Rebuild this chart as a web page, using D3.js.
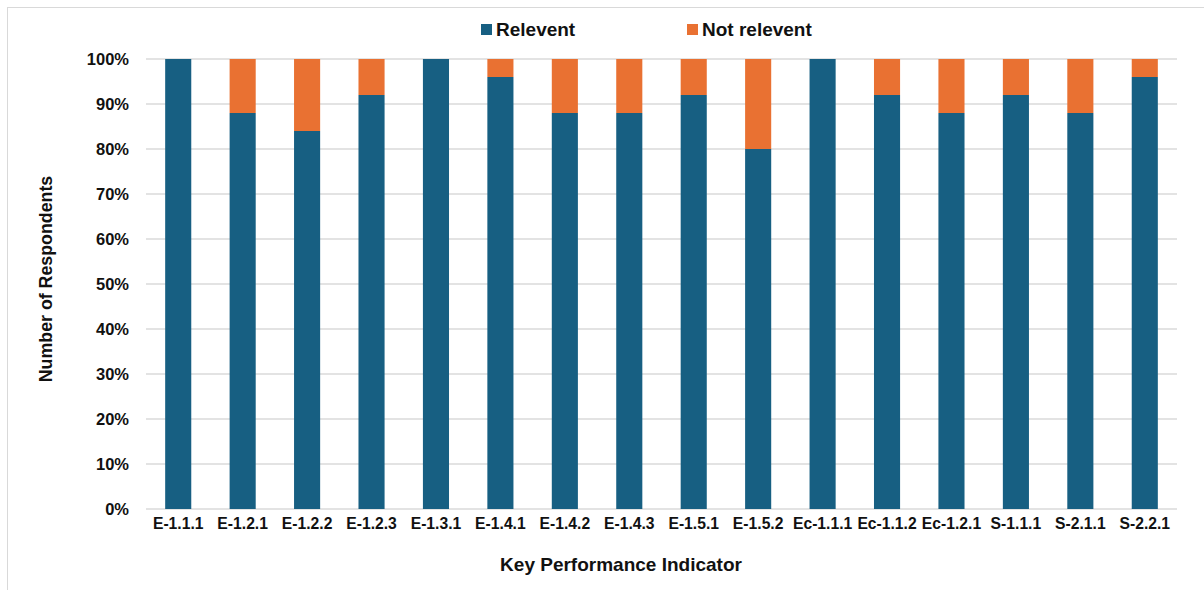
<!DOCTYPE html>
<html><head><meta charset="utf-8">
<script src="https://cdn.jsdelivr.net/npm/d3@7"></script>
<style>body{margin:0;background:#fff}svg{display:block;font-family:"Liberation Sans",Arial,sans-serif;font-weight:bold}</style>
</head><body><svg id="c" width="1204" height="590"></svg>
<script>
const categories=["E-1.1.1","E-1.2.1","E-1.2.2","E-1.2.3","E-1.3.1","E-1.4.1","E-1.4.2","E-1.4.3","E-1.5.1","E-1.5.2","Ec-1.1.1","Ec-1.1.2","Ec-1.2.1","S-1.1.1","S-2.1.1","S-2.2.1"];
const relevent=[100,88,84,92,100,96,88,88,92,80,100,92,88,92,88,96];
const notRelevent=[0,12,16,8,0,4,12,12,8,20,0,8,12,8,12,4];
const seriesNames=["Relevent","Not relevent"];
const colors=["#175f82","#e97132"];
const yTicks=[0,10,20,30,40,50,60,70,80,90,100];

const svg=d3.select("#c");
svg.append("rect").attr("x",7.5).attr("y",7.5).attr("width",1220).attr("height",600).attr("fill","none").attr("stroke","#d9d9d9");
const m={l:146,r:1177,t:59,b:509};
const x=d3.scaleBand().domain(categories).range([m.l,m.r]).paddingInner(0.595).paddingOuter(0.2975);
const y=d3.scaleLinear().domain([0,100]).range([m.b,m.t]);

svg.append("g").selectAll("line").data(yTicks).join("line")
 .attr("x1",m.l).attr("x2",m.r).attr("y1",d=>y(d)).attr("y2",d=>y(d))
 .attr("stroke","#e3e3e3").attr("stroke-width",2);

const data=categories.map((c,i)=>({c,r:relevent[i],n:notRelevent[i]}));
const stack=d3.stack().keys(["r","n"])(data);
stack.forEach((s,k)=>{
 svg.append("g").selectAll("rect").data(s).join("rect")
  .attr("x",d=>x(d.data.c)).attr("width",x.bandwidth())
  .attr("y",d=>y(d[1])).attr("height",d=>y(d[0])-y(d[1]))
  .attr("fill",colors[k]);
});

const ya=svg.append("g").attr("transform",`translate(${m.l},0)`)
 .call(d3.axisLeft(y).tickValues(yTicks).tickFormat(d=>d+"%").tickSize(0).tickPadding(17));
ya.select(".domain").remove();
ya.selectAll("text").attr("font-size",16.5).attr("font-family","Liberation Sans, Arial").attr("font-weight","bold").attr("fill","#111");

const xa=svg.append("g").attr("transform",`translate(0,${m.b})`)
 .call(d3.axisBottom(x).tickSize(0).tickPadding(9));
xa.select(".domain").remove();
xa.selectAll("text").attr("font-size",15.7).attr("font-family","Liberation Sans, Arial").attr("font-weight","bold").attr("fill","#111");

svg.append("text").attr("transform","translate(52,279) rotate(-90)").attr("text-anchor","middle")
 .attr("font-size",17.8).attr("fill","#111").text("Number of Respondents");
svg.append("text").attr("x",621).attr("y",571).attr("text-anchor","middle")
 .attr("font-size",19).attr("fill","#111").text("Key Performance Indicator");

const lx=[481,687];
seriesNames.forEach((n,i)=>{
 svg.append("rect").attr("x",lx[i]).attr("y",24).attr("width",11).attr("height",11).attr("fill",colors[i]);
 svg.append("text").attr("x",lx[i]+15).attr("y",36).attr("font-size",19).attr("fill","#111").text(n);
});
</script></body></html>
